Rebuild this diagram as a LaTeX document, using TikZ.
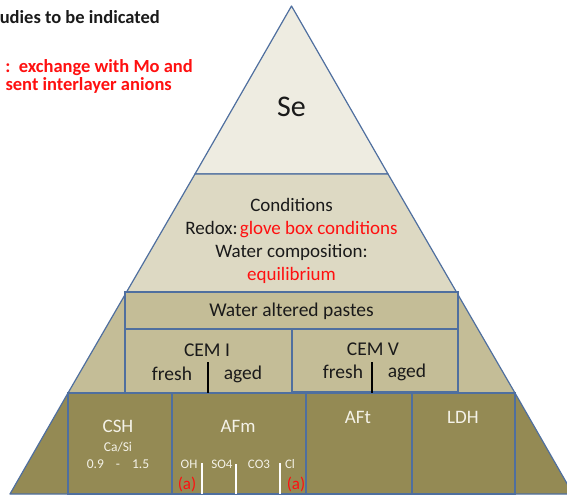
\documentclass[tikz,border=0pt]{standalone}
\usepackage{fontspec}
\setmainfont{Carlito}
\definecolor{lvlA}{HTML}{EEECE1}
\definecolor{lvlB}{HTML}{DDD9C3}
\definecolor{lvlC}{HTML}{C4BD97}
\definecolor{lvlD}{HTML}{948A54}
\definecolor{edgeblue}{HTML}{4F6F9F}
\definecolor{txtred}{HTML}{FF1010}
\definecolor{cream}{HTML}{F4F2E8}
\definecolor{txtdark}{HTML}{1A1A1A}
\begin{document}
\begin{tikzpicture}[x=1pt,y=-1pt,
  level/.style={draw=edgeblue, line width=1.2pt, line join=round},
  cell/.style={draw=edgeblue, line width=1.2pt},
  darktxt/.style={text=txtdark, inner sep=0pt},
  lighttxt/.style={text=cream, inner sep=0pt},
  redtxt/.style={text=txtred, inner sep=0pt},
  bar/.style={line width=2.6pt},
  big/.style={font=\fontsize{19}{23}\selectfont},
  mid/.style={font=\fontsize{19.5}{23}\selectfont},
  small/.style={font=\fontsize{13}{15}\selectfont},
  note/.style={font=\fontsize{18.5}{21}\selectfont\bfseries}
]
\useasboundingbox (0,0) rectangle (567,495);
\begin{scope}
\clip (0,0) rectangle (567,495);
% pyramid levels
\fill[white] (0,0) rectangle (567,495);
\filldraw[level, fill=lvlA] (291.5,6) -- (388,174) -- (195,174) -- cycle;
\filldraw[level, fill=lvlB] (195,174) -- (388,174) -- (457,293) -- (126,293) -- cycle;
\filldraw[level, fill=lvlC] (126,293) -- (457,293) -- (515,393) -- (68,393) -- cycle;
\filldraw[level, fill=lvlD] (68,393) -- (515,393) -- (573,494) -- (10,494) -- cycle;
% level 3 cells
\filldraw[cell, fill=lvlC] (125,292) rectangle (458,329);
\filldraw[cell, fill=lvlC] (125,329) rectangle (292,393);
\filldraw[cell, fill=lvlC] (292,329) rectangle (458,392);
% level 4 cells
\filldraw[cell, fill=lvlD] (68,393) rectangle (172,494);
\filldraw[cell, fill=lvlD] (172,393) rectangle (306,494);
\filldraw[cell, fill=lvlD] (306,393) rectangle (412,494);
\filldraw[cell, fill=lvlD] (412,393) rectangle (515,494);
\end{scope}

% top-left notes
\begin{scope}
\clip (0,0) rectangle (567,495);
\node[darktxt, anchor=base east, note] (note1) at (160,24) {udies to be indicated};
\node[redtxt, anchor=base east, note] (note2) at (193,72) {:\ \ exchange with Mo\ and};
\node[redtxt, anchor=base east, note] (note3) at (172,90) {sent interlayer anions};
\end{scope}

% apex
\node[darktxt, font=\fontsize{30}{34}\selectfont] (se) at (291.5,107) {Se};

% conditions
\node[darktxt, big, align=center] (cond) at (291.5,240.5) {Conditions\\Redox:\hspace{2pt}\textcolor{txtred}{glove box conditions}\\Water composition:\\\textcolor{txtred}{equilibrium}};

% water altered pastes
\node[darktxt, mid] (wap) at (291.5,311) {Water altered pastes};
\node[darktxt, mid] (cem1) at (207,350) {CEM I};
\node[darktxt, mid] (fresh1) at (172,374) {fresh};
\node[darktxt, mid] (aged1) at (243,374) {aged};
\node[darktxt, mid] (cem5) at (373,349) {CEM V};
\node[darktxt, mid] (fresh5) at (343,372) {fresh};
\node[darktxt, mid] (aged5) at (407,372) {aged};
\coordinate (b1t) at (208,362); \coordinate (b1b) at (208,393);
\coordinate (b5t) at (372,362); \coordinate (b5b) at (372,393);
\draw[bar, black] (b1t) -- (b1b);
\draw[bar, black] (b5t) -- (b5b);

% bottom level
\node[lighttxt, big] (csh) at (118,426) {CSH};
\node[lighttxt, font=\fontsize{13.5}{15}\selectfont] (casi) at (118,447) {Ca/Si};
\node[lighttxt, font=\fontsize{13.5}{15}\selectfont] (ratio) at (118,464) {0.9\hspace{12pt}-\hspace{12pt}1.5};
\node[lighttxt, big] (afm) at (238,426) {AFm};
\node[lighttxt, small] (oh) at (189,464) {OH};
\node[lighttxt, small] (so4) at (222,464) {SO4};
\node[lighttxt, small] (co3) at (259,464) {CO3};
\node[lighttxt, small] (cl) at (290,464) {Cl};
\node[redtxt, font=\fontsize{17}{19}\selectfont] (a1) at (187,484) {(a)};
\node[redtxt, font=\fontsize{17}{19}\selectfont] (a2) at (296,484) {(a)};
\coordinate (w1t) at (202,463); \coordinate (w1b) at (202,494);
\coordinate (w2t) at (236,464); \coordinate (w2b) at (236,494);
\coordinate (w3t) at (280,463); \coordinate (w3b) at (280,494);
\draw[bar, white] (w1t) -- (w1b);
\draw[bar, white] (w2t) -- (w2b);
\draw[bar, white] (w3t) -- (w3b);
\node[lighttxt, big] (aft) at (358,417) {AFt};
\node[lighttxt, big] (ldh) at (463,417) {LDH};
\end{tikzpicture}
\end{document}
